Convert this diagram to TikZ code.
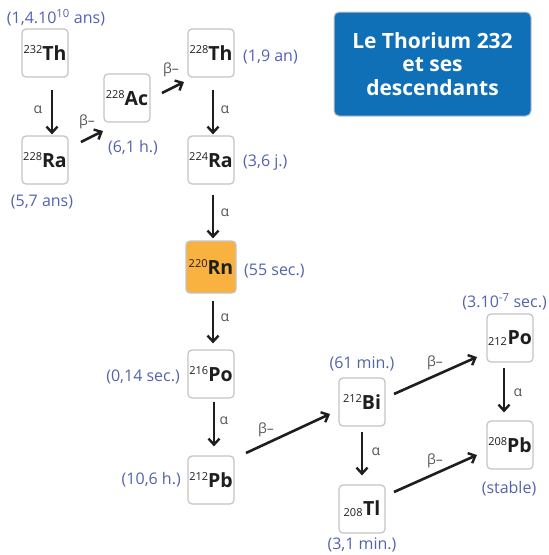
\documentclass[tikz,border=0pt]{standalone}
\usepackage{fontspec}
\setmainfont{Open Sans}
\usetikzlibrary{arrows.meta,calc}
\definecolor{hl}{HTML}{5362AE}
\definecolor{boxline}{HTML}{C4C4C4}
\definecolor{rnfill}{HTML}{F9B13F}
\definecolor{titleblue}{HTML}{0F70B7}
\definecolor{ink}{HTML}{1E1E1E}
\definecolor{decay}{HTML}{555555}
\newcommand\isoup[2]{\raisebox{6.5pt}{\fontsize{11}{11}\selectfont #1}{\fontsize{19.5}{19.5}\selectfont\bfseries #2}}
\newcommand\isodn[2]{\raisebox{-1pt}{\fontsize{11}{11}\selectfont #1}\kern0.5pt{\fontsize{19.5}{19.5}\selectfont\bfseries #2}}
\tikzset{
  iso/.style={draw=boxline,line width=1.2pt,rounded corners=4pt,fill=white,
    minimum width=46pt,minimum height=48pt,inner sep=0pt,text=ink},
  hlabel/.style={text=hl,font=\fontsize{16}{17}\selectfont,inner sep=0pt},
  dlabel/.style={text=decay,font=\fontsize{14}{14}\selectfont,inner sep=0pt},
  arr/.style={draw=ink,line width=2.6pt,-{Straight Barb[length=6pt,width=11pt,line width=2.4pt]}},
}
\begin{document}
\begin{tikzpicture}[x=1pt,y=-1pt]
\useasboundingbox (0,0) rectangle (549,555);
% title
\node[draw=boxline,line width=1pt,fill=titleblue,rounded corners=5pt,minimum width=197pt,minimum height=104pt,
  text=white,font=\bfseries\fontsize{21}{23.5}\selectfont,align=center] (title) at (432.5,64)
  {Le Thorium 232\\et ses\\descendants};
% isotopes
\node[iso] (th232) at (45,53) {\isoup{232}{Th}};
\node[iso] (ra228) at (45,160) {\isoup{228}{Ra}};
\node[iso] (ac228) at (127,98) {\isoup{228}{Ac}};
\node[iso] (th228) at (211,53) {\isoup{228}{Th}};
\node[iso] (ra224) at (211,160) {\isoup{224}{Ra}};
\node[iso,fill=rnfill,minimum width=50pt,minimum height=52pt] (rn220) at (211,267) {\isoup{220}{Rn}};
\node[iso] (po216) at (211,374) {\isoup{216}{Po}};
\node[iso] (pb212) at (211,480) {\isoup{212}{Pb}};
\node[iso] (bi212) at (362,402) {\isoup{212}{Bi}};
\node[iso] (tl208) at (362,509) {\isodn{208}{Tl}};
\node[iso] (po212) at (510,338) {\isodn{212}{Po}};
\node[iso] (pb208) at (510,445) {\isoup{208}{Pb}};
% half-lives
\node[hlabel] (h1) at (56,18) {(1,4.10\textsuperscript{10} ans)};
\node[hlabel] (h2) at (42,202) {(5,7 ans)};
\node[hlabel] (h3) at (133,148) {(6,1 h.)};
\node[hlabel,anchor=west] (h4) at (243,57) {(1,9 an)};
\node[hlabel,anchor=west] (h5) at (243,163) {(3,6 j.)};
\node[hlabel,anchor=west] (h6) at (244,271) {(55 sec.)};
\node[hlabel,anchor=east] (h7) at (180,377) {(0,14 sec.)};
\node[hlabel,anchor=east] (h8) at (181,480) {(10,6 h.)};
\node[hlabel] (h9) at (362,364) {(61 min.)};
\node[hlabel,anchor=east] (h10) at (547,302) {(3.10\textsuperscript{-7} sec.)};
\node[hlabel] (h11) at (509,489) {(stable)};
\node[hlabel] (h12) at (362,545) {(3,1 min.)};
% arrows
\draw[arr] ($(th232.south)+(7,12)$) -- ($(ra228.north)+(7,-1)$);
\draw[arr] ($(ra228)+(36,-18)$) -- ($(ac228)+(-24,33)$);
\draw[arr] ($(ac228)+(35,-5)$) -- ($(th228)+(-27,29)$);
\draw[arr] ($(th228.south)+(2,12)$) -- ($(ra224.north)+(2,-1)$);
\draw[arr] ($(ra224.south)+(2,10)$) -- ($(rn220.north)+(2,-2)$);
\draw[arr] ($(rn220.south)+(2,7)$) -- ($(po216.north)+(2,-6)$);
\draw[arr] ($(po216.south)+(3,3)$) -- ($(pb212.north)+(3,-9)$);
\draw[arr] ($(pb212)+(35,-27)$) -- ($(bi212)+(-32,12)$);
\draw[arr] ($(bi212)+(32,-8)$) -- ($(po212)+(-33,19)$);
\draw[arr] ($(bi212.south)+(0,5)$) -- ($(tl208.north)+(0,-9)$);
\draw[arr] ($(tl208)+(32,-17)$) -- ($(pb208)+(-33,10)$);
\draw[arr] ($(po212.south)+(-6,5)$) -- ($(pb208.north)+(-6,-8)$);
% decay labels
\node[dlabel] (d1) at (38,110) {α};
\node[dlabel] (d2) at (87,122) {β–};
\node[dlabel] (d3) at (171,70) {β–};
\node[dlabel] (d4) at (225,110) {α};
\node[dlabel] (d5) at (225,213) {α};
\node[dlabel] (d6) at (225,318) {α};
\node[dlabel] (d7) at (224,421) {α};
\node[dlabel] (d8) at (266,430) {β–};
\node[dlabel] (d9) at (435,363) {β–};
\node[dlabel] (d10) at (376,452) {α};
\node[dlabel] (d11) at (518,393) {α};
\node[dlabel] (d12) at (435,461) {β–};
\end{tikzpicture}
\end{document}
